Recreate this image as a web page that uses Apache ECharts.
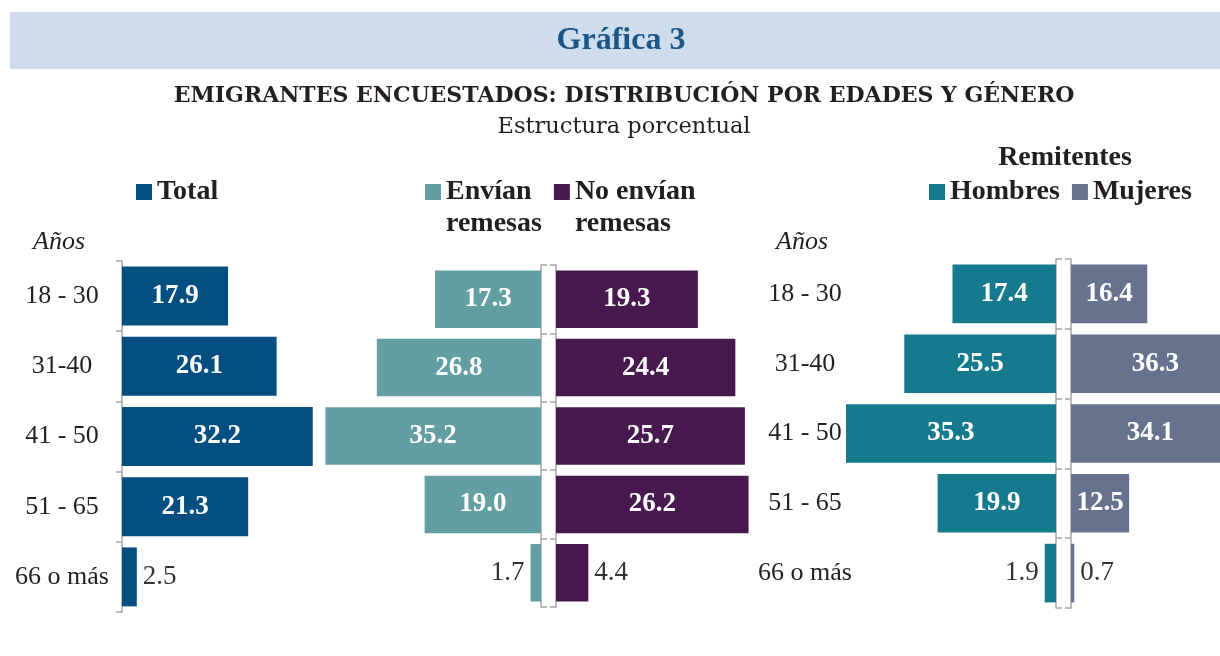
<!DOCTYPE html>
<html>
<head>
<meta charset="utf-8">
<script src="https://cdn.jsdelivr.net/npm/echarts@6/dist/echarts.min.js"></script>
<style>
html, body { margin: 0; padding: 0; background: #fff; }
#chart { width: 1220px; height: 656px; }
</style>
</head>
<body>
<div id="chart"></div>
<script>
// datos (estructura porcentual)
const ageGroups = ['18 - 30', '31-40', '41 - 50', '51 - 65', '66 o más'];
const total = [17.9, 26.1, 32.2, 21.3, 2.5];
const envian = [17.3, 26.8, 35.2, 19.0, 1.7];
const noEnvian = [19.3, 24.4, 25.7, 26.2, 4.4];
const hombres = [17.4, 25.5, 35.3, 19.9, 1.9];
const mujeres = [16.4, 36.3, 34.1, 12.5, 0.7];

const serif = 'Liberation Serif';
const textColor = '#231f20';
const axisGray = '#a6a6a6';

let myChart = echarts.init(document.getElementById('chart'));

// valores chicos: etiqueta fuera de la barra
function barData(values, outsidePos) {
    return values.map(function (v) {
        if (v < 5) {
            return {
                value: v,
                label: { position: outsidePos, color: '#333', fontWeight: 'normal', distance: 6 },
            };
        }
        return v;
    });
}

function yCat(gridIndex, position, showLabel) {
    return {
        type: 'category',
        gridIndex: gridIndex,
        position: position,
        inverse: true,
        data: ageGroups,
        axisLine: { show: true, lineStyle: { color: axisGray, width: 1.5 } },
        axisTick: { show: true, length: 6, lineStyle: { color: axisGray, width: 1.5 } },
        axisLabel: showLabel
            ? { show: true, margin: 60, align: 'center', fontFamily: serif, fontSize: 26, color: textColor }
            : { show: false },
        splitLine: { show: false },
    };
}

function xVal(gridIndex, inverse) {
    return { type: 'value', gridIndex: gridIndex, min: 0, max: 40, inverse: inverse, show: false };
}

function barSeries(name, data, color, idx, outsidePos) {
    return {
        name: name,
        type: 'bar',
        xAxisIndex: idx,
        yAxisIndex: idx,
        barCategoryGap: '16%',
        itemStyle: { color: color },
        label: {
            show: true,
            position: 'inside',
            color: '#fff',
            fontFamily: serif,
            fontWeight: 'bold',
            fontSize: 27,
            formatter: function (p) {
                return p.value.toFixed(1);
            },
        },
        data: barData(data, outsidePos),
    };
}

const legendText = { fontFamily: serif, fontWeight: 'bold', fontSize: 28, color: textColor, lineHeight: 32 };

let option = {
    animation: false,
    graphic: [
        { type: 'rect', shape: { x: 10, y: 12, width: 1210, height: 57 }, style: { fill: '#cfdcec' } },
        {
            type: 'text', x: 621, y: 41,
            style: { text: 'Gráfica 3', font: 'bold 32px "Liberation Serif"', fill: '#1d5685', textAlign: 'center', textVerticalAlign: 'middle', align: 'center', verticalAlign: 'middle' },
        },
        {
            type: 'text', x: 624, y: 96,
            style: { text: 'EMIGRANTES ENCUESTADOS: DISTRIBUCIÓN POR EDADES Y GÉNERO', font: 'bold 22px "DejaVu Serif"', fill: textColor, textAlign: 'center', textVerticalAlign: 'middle', align: 'center', verticalAlign: 'middle' },
        },
        {
            type: 'text', x: 624, y: 127,
            style: { text: 'Estructura porcentual', font: '22.5px "DejaVu Serif"', fill: textColor, textAlign: 'center', textVerticalAlign: 'middle', align: 'center', verticalAlign: 'middle' },
        },
        {
            type: 'text', x: 1065, y: 158,
            style: { text: 'Remitentes', font: 'bold 28px "Liberation Serif"', fill: textColor, textAlign: 'center', textVerticalAlign: 'middle', align: 'center', verticalAlign: 'middle' },
        },
        {
            type: 'text', x: 33, y: 242,
            style: { text: 'Años', font: 'italic 26px "Liberation Serif"', fill: textColor, textVerticalAlign: 'middle', verticalAlign: 'middle' },
        },
        {
            type: 'text', x: 776, y: 242,
            style: { text: 'Años', font: 'italic 26px "Liberation Serif"', fill: textColor, textVerticalAlign: 'middle', verticalAlign: 'middle' },
        },
    ],
    legend: [
        {
            data: ['Total'], left: 136, top: 176, padding: 0,
            itemWidth: 16, itemHeight: 16, icon: 'rect', textStyle: legendText,
        },
        {
            data: ['Envían remesas', 'No envían remesas'], left: 425, top: 144, padding: 0,
            itemWidth: 16, itemHeight: 16, itemGap: 12, icon: 'rect', textStyle: legendText,
            formatter: function (name) {
                return ' \n' + name.replace(' remesas', '\nremesas');
            },
        },
        {
            data: ['Hombres', 'Mujeres'], left: 929, top: 176, padding: 0,
            itemWidth: 16, itemHeight: 16, itemGap: 12, icon: 'rect', textStyle: legendText,
        },
    ],
    grid: [
        { left: 122, top: 261, width: 237, height: 351, outerBoundsMode: 'none' },
        { left: 296, top: 265, width: 245, height: 342, outerBoundsMode: 'none' },
        { left: 556, top: 265, width: 294, height: 342, outerBoundsMode: 'none' },
        { left: 818, top: 259, width: 238, height: 349, outerBoundsMode: 'none' },
        { left: 1071, top: 259, width: 186, height: 349, outerBoundsMode: 'none' },
    ],
    xAxis: [xVal(0, false), xVal(1, true), xVal(2, false), xVal(3, true), xVal(4, false)],
    yAxis: [
        yCat(0, 'left', true),
        yCat(1, 'right', false),
        yCat(2, 'left', false),
        yCat(3, 'right', false),
        yCat(4, 'left', false),
        {
            // etiquetas de edad del panel derecho
            type: 'category',
            gridIndex: 3,
            position: 'left',
            inverse: true,
            data: ageGroups,
            axisLine: { show: false },
            axisTick: { show: false },
            axisLabel: { margin: 13, align: 'center', fontFamily: serif, fontSize: 26, color: textColor },
        },
    ],
    series: [
        barSeries('Total', total, '#034f82', 0, 'right'),
        barSeries('Envían remesas', envian, '#639ea2', 1, 'left'),
        barSeries('No envían remesas', noEnvian, '#47194f', 2, 'right'),
        barSeries('Hombres', hombres, '#167a8e', 3, 'left'),
        barSeries('Mujeres', mujeres, '#67728f', 4, 'right'),
    ],
};

myChart.setOption(option);
window.addEventListener('resize', function () {
    myChart.resize();
});
</script>
</body>
</html>
